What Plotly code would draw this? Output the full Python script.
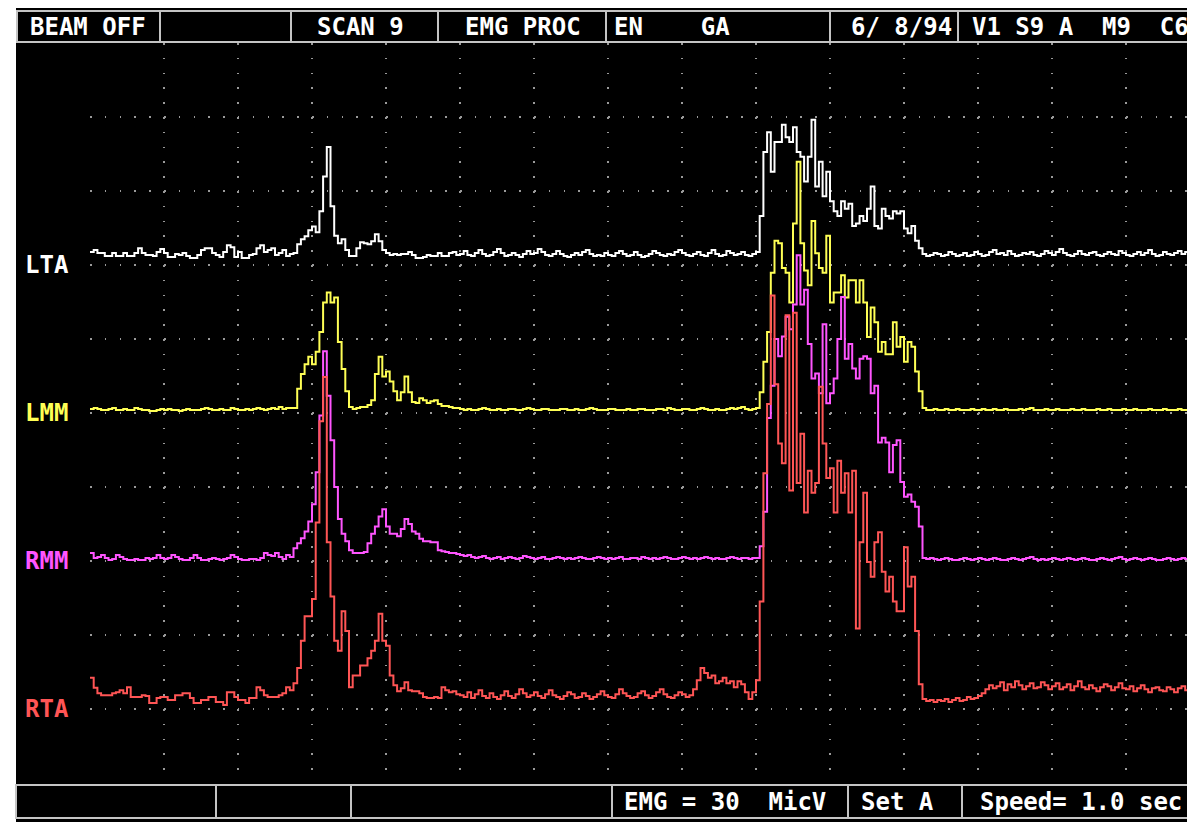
import numpy as np
import plotly.graph_objects as go

# ------------------------------------------------------------------ data
SAMPLE_PERIOD_S = 0.005          # 20 samples per 0.1 s grid division
DIVISION_S = 0.1
EMG_UV_PER_DIV = 30              # "EMG = 30 MicV"

channel_names = ["LTA", "LMM", "RMM", "RTA"]

lta_uv = [
    2.4, 3.2, 2, 2, 0.8, 0.8, 2, 0.8, 0.8, 2, 0.8, 0.8, 2, 4, 2, 1.2, 1.2, 0.8, 2.4, 3.6,
    2, 0.4, 0.4, 1.6, 1.2, 2, 0.8, 0, 0, 1.2, 3.2, 4, 4, 2, 1.2, 0.4, 2.4, 5.2, 4.4, 0.4,
    2.4, 0, 0, 1.2, 1.6, 4, 5.2, 2.4, 3.2, 4, 1.2, 2, 3.2, 0.8, 1.6, 2, 5.6, 7.6, 8.8, 11.2,
    12.8, 10.4, 19, 33, 45, 21, 9, 6, 7.6, 3.2, 0.8, 0.8, 4, 6.4, 6, 5.6, 6.8, 9.6, 6.8, 3.2,
    2, 1.2, 1.6, 1.2, 1.6, 1.6, 2.4, 1.2, 0, 0, 0.4, 1.2, 0.8, 0.8, 2, 0.8, 0.8, 2, 2.4, 1.2,
    1.6, 2.8, 1.2, 0.8, 2, 3.2, 1.6, 0.8, 1.2, 2.4, 3.6, 2, 0.8, 1.2, 2, 1.2, 0.4, 1.6, 2.8, 1.6,
    2, 3.6, 2.4, 1.2, 0.8, 1.6, 2.8, 1.6, 0.8, 0.4, 1.2, 2, 1.2, 2.4, 3.2, 1.6, 0.8, 1.2, 0.8, 2,
    1.2, 0.8, 2, 2.8, 1.6, 0.8, 1.2, 2.4, 1.2, 0.4, 0.8, 1.6, 2.8, 2, 1.2, 0.8, 1.6, 1.2, 2.4, 3.2,
    2, 1.2, 0.8, 1.6, 2.4, 1.2, 0.8, 2, 3.2, 1.6, 0.8, 1.2, 2.8, 2, 1.2, 1.6, 2.4, 1.2, 0.8, 1.6,
    2.4, 17, 43, 51, 35, 47, 47, 54, 49, 47, 53, 43, 41, 31, 41, 56, 29, 39, 25, 35,
    23, 19, 17, 23, 20, 22, 13, 14, 17, 15, 20, 29, 13, 12, 20, 17, 16, 19, 18, 19,
    12, 10, 13, 7, 4, 1.6, 0.8, 1.2, 2, 1.6, 0.8, 1.2, 2.4, 1.6, 0.8, 1.2, 2, 0.8, 1.2, 2.4,
    1.6, 0.8, 1.2, 2.4, 3.2, 1.6, 2, 1.2, 2.8, 1.6, 0.8, 1.2, 2, 1.6, 2.4, 1.2, 0.8, 1.6, 2.8, 2,
    1.2, 2.4, 3.6, 2, 1.2, 0.8, 1.6, 2.8, 1.6, 1.2, 2, 2.4, 1.2, 0.8, 1.6, 2.4, 1.6, 1.2, 2.8, 2,
    1.2, 0.8, 1.6, 2.4, 1.2, 2, 3.2, 1.6, 0.8, 1.2, 2.4, 1.6, 1.2, 2, 2.8, 1.6, 2.4, 3.6, 2.8,
]

lmm_uv = [
    0.8, 1.2, 0.8, 0.4, 0.4, 0.8, 1.2, 0.4, 0.4, 0.8, 0.4, 0.4, 1.2, 0.8, 0.4, 0.4, 0, 0, 0.4, 0.8,
    0.4, 0.8, 0.4, 0.4, 0, 0.4, 0.8, 0.4, 0.4, 0.4, 0.8, 1.2, 0.8, 0.4, 0.4, 0.8, 0.4, 0.4, 1.2, 0.8,
    0.4, 0.4, 0.8, 0.4, 0.8, 1.2, 0.8, 0.4, 0.8, 1.2, 0.8, 1.6, 0.8, 1.2, 1.2, 1.2, 9, 15, 19, 22,
    19, 24, 32, 44, 48, 44, 46, 28, 17, 8, 1.6, 0.8, 1.2, 1.6, 1.6, 2.4, 4.4, 15, 22, 14,
    16, 12, 8, 4.4, 7.6, 14, 7.6, 3.6, 3.2, 5.2, 4.4, 3.2, 4, 4.4, 2.8, 2, 2, 1.6, 1.2, 1.2,
    0.8, 0.4, 0.8, 0.4, 0.4, 0.8, 1.2, 0.8, 0.4, 0.4, 0.8, 0.4, 0.4, 0.8, 0.8, 0.4, 0.4, 0.8, 1.2, 0.8,
    0.4, 0.4, 0.8, 0.8, 0.4, 0.4, 0.4, 0.8, 0.8, 0.4, 0.4, 0.8, 0.4, 0.4, 0.8, 1.2, 0.8, 0.4, 0.4, 0.4,
    0.8, 0.8, 0.4, 0.4, 0.4, 0.8, 0.4, 0.4, 0.8, 0.8, 0.4, 0.4, 0.4, 0.8, 0.8, 0.4, 1.2, 0.8, 0.4, 0.4,
    0.8, 0.8, 0.4, 0.4, 0.8, 1.2, 0.8, 0.4, 0.4, 0.8, 0.4, 0.4, 0.8, 1.2, 0.8, 1.2, 1.6, 0.8, 0.4, 0.8,
    1.2, 7.6, 20, 32, 56, 69, 68, 58, 56, 44, 76, 101, 68, 57, 51, 77, 64, 58, 56, 71,
    44, 48, 48, 55, 46, 53, 53, 44, 53, 44, 30, 42, 36, 24, 28, 23, 23, 36, 26, 30,
    20, 28, 26, 16, 8, 1.2, 0.4, 0.4, 0.8, 0.4, 0.4, 0.8, 0.4, 0.4, 0.8, 0.4, 0.4, 0.4, 0.8, 0.4,
    0.4, 0.8, 0.4, 0.4, 0.8, 0.4, 0.4, 0.8, 0.4, 0.4, 0.4, 0.8, 0.4, 0.8, 1.2, 0.4, 0.4, 0.4, 0.8, 0.4,
    0.4, 0.8, 0.4, 0.4, 0.4, 0.8, 0.4, 0.4, 0.8, 0.4, 0.4, 0.4, 0.8, 0.4, 0.4, 0.8, 0.4, 0.4, 0.4, 0.8,
    0.4, 0.4, 0.8, 0.4, 0.4, 0.4, 0.8, 0.4, 0.4, 0.4, 0.8, 0.4, 0.4, 0.4, 0.8, 0.4, 0.4, 0.8, 0.4,
]

rmm_uv = [
    3.2, 1.2, 1.6, 2.4, 1.2, 0.4, 0.8, 2.4, 1.6, 0.8, 0.4, 0.4, 0.8, 0.4, 0.4, 1.2, 0.8, 1.2, 2.4, 1.2,
    0.8, 1.2, 2.4, 1.6, 0.8, 0.4, 0.4, 1.2, 2.4, 1.2, 0.4, 0.4, 0.8, 1.2, 0.8, 0.4, 0.8, 1.2, 2.4, 1.6,
    0.8, 0.4, 0.4, 0.8, 0.8, 0.4, 1.2, 3.2, 2.4, 2, 3.2, 1.6, 0.8, 2.4, 1.6, 5.2, 7.2, 9.2, 12, 16,
    23, 36, 59, 85, 67, 49, 30, 17, 11, 8, 4.4, 3.2, 3.2, 3.2, 3.6, 7.2, 11, 14, 18, 21,
    14, 11, 11, 10, 13, 17, 15, 12, 11, 9, 8, 8, 7.6, 7.6, 4.4, 4, 3.6, 3.2, 3.2, 2.8,
    2.4, 2, 2.4, 1.6, 1.2, 1.6, 2, 1.2, 0.8, 1.2, 1.6, 0.8, 1.2, 1.6, 1.2, 0.8, 1.2, 2, 1.6, 1.2,
    0.8, 1.2, 1.6, 0.8, 0.8, 1.2, 1.6, 1.2, 0.8, 1.2, 0.8, 1.2, 1.6, 1.2, 0.8, 0.8, 1.2, 1.6, 1.2, 0.8,
    1.2, 0.8, 1.2, 1.6, 0.8, 0.8, 1.2, 1.2, 0.8, 1.6, 1.2, 0.8, 1.2, 0.8, 1.2, 1.6, 1.2, 0.8, 0.8, 1.2,
    1.6, 1.2, 0.8, 1.2, 0.8, 1.2, 1.6, 1.2, 0.8, 1.2, 0.8, 0.8, 1.2, 1.6, 1.2, 0.8, 1.2, 1.2, 0.8, 1.2,
    1.2, 6, 20, 58, 71, 90, 83, 91, 99, 94, 104, 124, 104, 110, 88, 74, 76, 68, 96, 64,
    68, 74, 90, 107, 82, 88, 78, 74, 82, 83, 82, 68, 71, 48, 50, 48, 36, 47, 49, 32,
    26, 27, 24, 22, 14, 1.2, 0.8, 1.2, 0.8, 0.4, 0.8, 1.2, 0.8, 0.4, 0.4, 0.8, 1.2, 0.8, 0.4, 0.8,
    1.2, 0.8, 0.4, 0.8, 1.2, 0.8, 0.4, 0.4, 0.8, 1.2, 0.8, 0.4, 0.8, 1.2, 1.6, 0.8, 0.4, 0.8, 0.4, 0.8,
    1.2, 0.8, 0.4, 0.8, 1.2, 0.8, 0.4, 0.8, 1.2, 0.8, 0.4, 0.4, 0.8, 1.2, 0.8, 0.4, 0.8, 1.2, 1.6, 0.8,
    0.4, 0.8, 1.2, 0.8, 0.4, 0.8, 1.2, 0.8, 0.4, 0.4, 0.8, 1.2, 0.8, 0.4, 0.8, 1.2, 0.8, 1.6, 2,
]

rta_uv = [
    11, 7, 4.8, 4, 4, 4, 4.8, 5.2, 6, 4.8, 7.2, 3.2, 3.2, 3.2, 4, 3.6, 0.8, 0.8, 2.8, 3.2,
    3.2, 2, 2, 4, 4, 4.8, 4.8, 2.8, 0.8, 0.8, 2, 2, 3.2, 3.2, 1.2, 1.2, 0, 5.2, 5.2, 3.2,
    2, 2, 0.8, 2.8, 2.8, 7.2, 6, 4, 3.2, 3.2, 3.2, 4, 4.8, 7.2, 6, 8.8, 15, 26, 36, 36,
    43, 74, 115, 133, 66, 44, 26, 22, 38, 30, 7.2, 12, 12, 16, 16, 19, 22, 26, 37, 26,
    24, 12, 8, 5.6, 6.8, 9.2, 6, 5.6, 5.6, 4.8, 3.2, 2.8, 2.8, 3.2, 2.8, 7.2, 6, 5.2, 5.6, 4.4,
    4, 3.2, 5.2, 2.8, 4.4, 6, 3.6, 2.8, 4.8, 3.2, 2.4, 4, 5.6, 3.6, 2.8, 4.4, 6.4, 4.8, 3.2, 4,
    5.2, 3.6, 2.8, 4.4, 6, 4, 3.2, 2.4, 3.6, 5.2, 4.4, 2.8, 3.2, 4.8, 3.6, 2.4, 3.2, 4.4, 5.6, 4,
    3.2, 2.8, 4.4, 6.4, 4.8, 3.6, 2.8, 3.2, 4.8, 5.6, 4, 2.8, 3.6, 5.2, 6.4, 4.4, 3.2, 2.8, 4, 5.2,
    4.4, 3.2, 4, 6.4, 10, 15, 13, 11, 12, 8.8, 9.6, 11, 8.8, 9.6, 7.2, 9.6, 8.4, 5.2, 2.4, 5.2,
    10, 42, 94, 122, 166, 130, 106, 98, 158, 87, 159, 90, 110, 78, 95, 86, 90, 129, 106, 92,
    96, 78, 99, 86, 94, 78, 95, 31, 66, 86, 58, 52, 66, 70, 54, 46, 52, 42, 38, 38,
    64, 48, 52, 30, 8.4, 2.4, 1.6, 2, 1.2, 2, 1.6, 2.4, 1.2, 2, 2.8, 1.6, 2, 3.2, 2.4, 2.8,
    3.6, 4.8, 6.4, 8, 6.8, 7.6, 9.2, 6, 8.4, 7.2, 9.6, 8, 6.4, 7.6, 8.8, 6.8, 7.2, 9.2, 8, 6.4,
    7.6, 8.8, 6.4, 7.2, 8.4, 6, 7.6, 9.6, 7.2, 6.4, 8, 6.8, 5.6, 7.2, 8.4, 7.6, 6, 7.2, 8.8, 6.8,
    6.4, 7.6, 5.6, 6.8, 8, 6.4, 5.2, 6.8, 7.2, 6, 5.6, 7.2, 6.4, 5.2, 6.8, 7.6, 6, 5.6, 6.4,
]

header_texts = ["BEAM OFF", "SCAN 9", "EMG PROC", "EN    GA", "6/ 8/94", "V1 S9 A  M9  C6"]
footer_texts = ["EMG = 30  MicV", "Set A", "Speed= 1.0 sec"]

# ------------------------------------------------------------------ layout / style
# all positions below are page pixels; the page body adds an 8 px offset
PAGE_OFF = 8
W, H = 1195 - PAGE_OFF, 822 - PAGE_OFF
PLOT_L, PLOT_R, PLOT_T, PLOT_B = 90, 1195, 43, 783     # grid area (page px)
N_ROWS = 10
DIV_PX = (PLOT_B - PLOT_T) / N_ROWS

channel_colors = ["#ffffff", "#ffff55", "#ff55ff", "#ff5555"]
channel_baseline_px = [258, 411, 561, 705]
channel_label_row = [7, 5, 3, 1]
FONT = "DejaVu Sans Mono"
BORDER = "#c4c4c4"
GRID = "#9a9a9a"

header_text_x = [30, 317, 465, 614, 851, 972]
header_seps = [160, 291, 438, 606, 830, 958]
footer_text_x = [624, 861, 980]
footer_seps = [216, 351, 612, 848, 962]


def px_x(px):
    return (px - PLOT_L) / (PLOT_R - PLOT_L)


def px_y(py):
    return (PLOT_B - py) / (PLOT_B - PLOT_T)


def nb(s):
    return s.replace(" ", "\u00a0")


def bold(s):
    return "<b>" + s + "</b>"


x_span_s = (PLOT_R - PLOT_L) / DIV_PX * DIVISION_S
y_span_uv = N_ROWS * EMG_UV_PER_DIV

fig = go.Figure()

series = [lta_uv, lmm_uv, rmm_uv, rta_uv]
for k, (name, vals, col) in enumerate(zip(channel_names, series, channel_colors)):
    t = np.arange(len(vals)) * SAMPLE_PERIOD_S
    fig.add_trace(go.Scatter(
        x=t, y=vals, mode="lines", name=name,
        line=dict(color=col, width=2, shape="hv"),
        yaxis="y%d" % (k + 2), hoverinfo="skip",
    ))

axis_common = dict(showticklabels=False, zeroline=False, showline=False, ticks="", automargin=False)

layout_axes = {}
layout_axes["xaxis"] = dict(
    range=[0, x_span_s], domain=[0, 1], tickmode="array",
    tickvals=[DIVISION_S * i for i in range(15)],
    showgrid=True, gridcolor=GRID, gridwidth=1.5, griddash="1.5px,13.3px", **axis_common)
layout_axes["yaxis"] = dict(
    range=[0, N_ROWS], domain=[0, 1], tickmode="array", tickvals=list(range(1, N_ROWS)),
    showgrid=True, gridcolor=GRID, gridwidth=1.5, griddash="1.5px,13.3px", **axis_common)
for k, base in enumerate(channel_baseline_px):
    f = (PLOT_B - base) / (PLOT_B - PLOT_T)
    layout_axes["yaxis%d" % (k + 2)] = dict(
        range=[-f * y_span_uv, (1 - f) * y_span_uv], overlaying="y", domain=[0, 1],
        showgrid=False, **axis_common)

shapes = []
# black screen
shapes.append(dict(type="rect", xref="paper", yref="paper", x0=px_x(16), x1=px_x(1210),
                   y0=px_y(8), y1=px_y(840), fillcolor="black", line=dict(width=0), layer="below"))
# header bar
shapes.append(dict(type="rect", xref="paper", yref="paper", x0=px_x(17), x1=px_x(1210),
                   y0=px_y(42), y1=px_y(11), line=dict(color=BORDER, width=2), layer="above"))
for sx in header_seps:
    shapes.append(dict(type="line", xref="paper", yref="paper", x0=px_x(sx), x1=px_x(sx),
                       y0=px_y(42), y1=px_y(11), line=dict(color=BORDER, width=2), layer="above"))
# footer bar
shapes.append(dict(type="rect", xref="paper", yref="paper", x0=px_x(16), x1=px_x(1210),
                   y0=px_y(818), y1=px_y(785), line=dict(color=BORDER, width=2), layer="above"))
for sx in footer_seps:
    shapes.append(dict(type="line", xref="paper", yref="paper", x0=px_x(sx), x1=px_x(sx),
                       y0=px_y(818), y1=px_y(785), line=dict(color=BORDER, width=2), layer="above"))

annotations = []
for txt, tx in zip(header_texts, header_text_x):
    annotations.append(dict(text=bold(nb(txt)), xref="paper", yref="paper", x=px_x(tx - 2), y=px_y(27),
                            xanchor="left", yanchor="middle", showarrow=False,
                            font=dict(family=FONT, size=24, color="white")))
for txt, tx in zip(footer_texts, footer_text_x):
    annotations.append(dict(text=bold(nb(txt)), xref="paper", yref="paper", x=px_x(tx - 2), y=px_y(802),
                            xanchor="left", yanchor="middle", showarrow=False,
                            font=dict(family=FONT, size=24, color="white")))
for name, col, row in zip(channel_names, channel_colors, channel_label_row):
    annotations.append(dict(text=bold(name), xref="paper", yref="y", x=px_x(23), y=row,
                            xanchor="left", yanchor="middle", showarrow=False,
                            font=dict(family=FONT, size=24, color=col)))

fig.update_layout(
    width=W, height=H,
    margin=dict(l=PLOT_L - PAGE_OFF, r=W + PAGE_OFF - PLOT_R, t=PLOT_T - PAGE_OFF,
                b=H + PAGE_OFF - PLOT_B, pad=0, autoexpand=False),
    paper_bgcolor="white", plot_bgcolor="rgba(0,0,0,0)",
    showlegend=False, shapes=shapes, annotations=annotations,
    **layout_axes,
)

fig.write_html("out.html", config={"displayModeBar": False})
